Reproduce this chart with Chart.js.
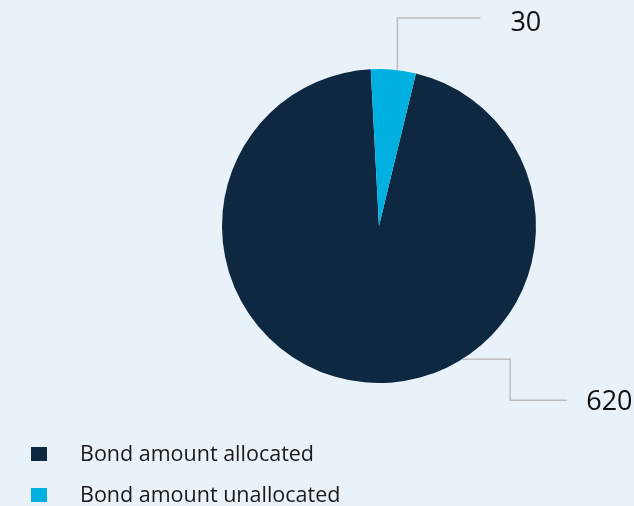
<!DOCTYPE html>
<html>
<head>
<meta charset="utf-8">
<script src="https://cdn.jsdelivr.net/npm/chart.js@4/dist/chart.umd.min.js"></script>
<style>
  html, body { margin: 0; padding: 0; background: #e9f1f9; }
  #wrap { position: relative; width: 634px; height: 506px; }
  #legend { position: absolute; left: 31px; top: 438px; font-family: "Open Sans", sans-serif; font-size: 21.5px; color: #1a1a1a; }
  #legend div { height: 41px; display: flex; align-items: flex-start; white-space: nowrap; }
  #legend span.box { width: 16px; height: 14px; margin-top: 9px; margin-right: 33px; }
</style>
</head>
<body>
<div id="wrap">
  <canvas id="chart" width="634" height="506"></canvas>
  <div id="legend"></div>
</div>
<script>
// Daten
const labels = ["Bond amount allocated", "Bond amount unallocated"];
const values = [620, 30];
const colors = ["#0f2842", "#00b0e0"];

// Position der Beschriftungen (Winkel in Grad, im Uhrzeigersinn ab oben)
const leaderStyle = [
    { angle: 148, type: "down" },
    { angle: 6, type: "up" }
];

const leaderPlugin = {
    id: "leaders",
    afterDraw(chart) {
        const ctx = chart.ctx;
        const meta = chart.getDatasetMeta(0);
        ctx.save();
        ctx.strokeStyle = "#bdbdbd";
        ctx.lineWidth = 1.5;
        ctx.fillStyle = "#111111";
        ctx.font = "27px 'Open Sans', sans-serif";
        ctx.textBaseline = "middle";
        meta.data.forEach((arc, i) => {
            const p = arc.getProps(["x", "y", "outerRadius"], true);
            const a = (leaderStyle[i].angle - 90) * Math.PI / 180;
            const sx = p.x + Math.cos(a) * p.outerRadius;
            const sy = p.y + Math.sin(a) * p.outerRadius;
            ctx.beginPath();
            if (leaderStyle[i].type === "up") {
                const ty = p.y - p.outerRadius - 51;
                ctx.moveTo(sx + 2, sy);
                ctx.lineTo(sx + 2, ty);
                ctx.lineTo(sx + 85, ty);
                ctx.stroke();
                ctx.fillText(String(values[i]), sx + 115, ty + 5);
            } else {
                const ty = sy + 41;
                ctx.moveTo(sx, sy);
                ctx.lineTo(sx + 48, sy);
                ctx.lineTo(sx + 48, ty);
                ctx.lineTo(sx + 105, ty);
                ctx.stroke();
                ctx.fillText(String(values[i]), sx + 124, ty + 2);
            }
        });
        ctx.restore();
    }
};

const chart = new Chart(document.getElementById("chart"), {
    type: "pie",
    data: {
        labels: labels,
        datasets: [{
            data: values,
            backgroundColor: colors,
            borderWidth: 0
        }]
    },
    options: {
        responsive: false,
        animation: false,
        rotation: 13.6,
        layout: {
            padding: { top: 69, bottom: 123, left: 222, right: 98 }
        },
        plugins: {
            legend: { display: false },
            tooltip: { enabled: false }
        }
    },
    plugins: [leaderPlugin]
});

// Legende als HTML
const legendEl = document.getElementById("legend");
labels.forEach((label, i) => {
    const row = document.createElement("div");
    row.innerHTML = `<span class="box" style="background:${colors[i]}"></span><span>${label}</span>`;
    legendEl.appendChild(row);
});
</script>
</body>
</html>
